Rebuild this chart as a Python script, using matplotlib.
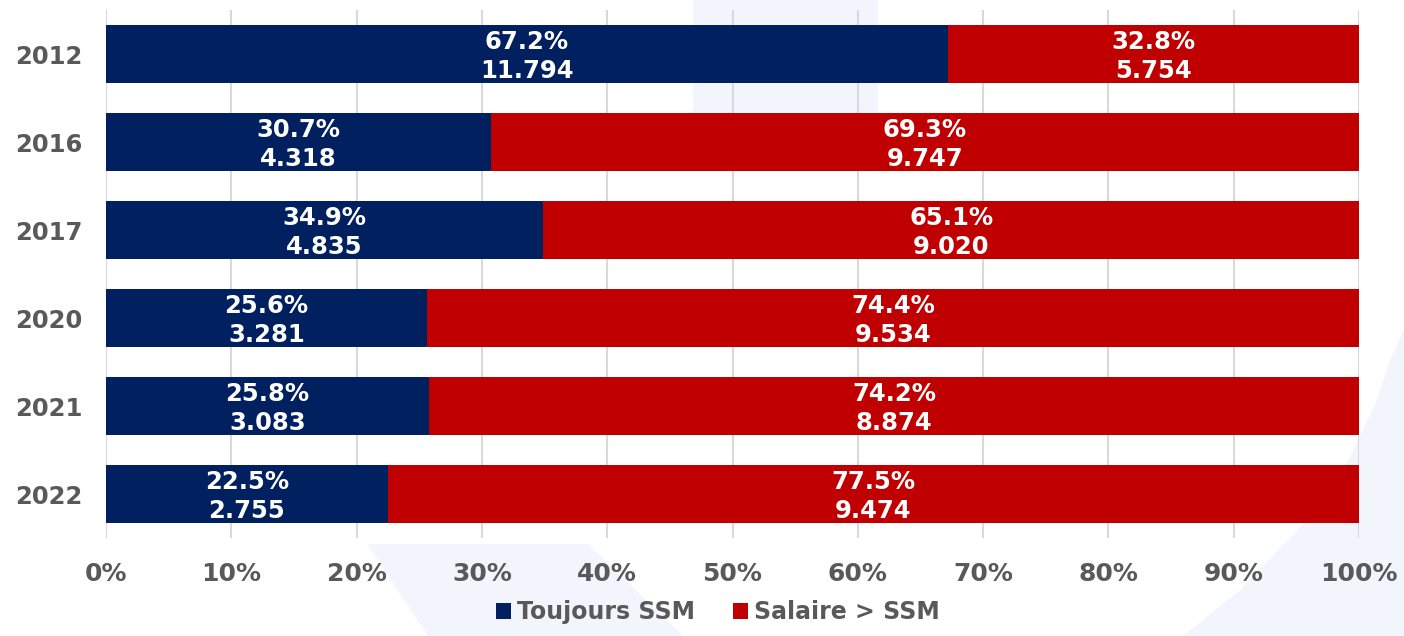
import matplotlib
matplotlib.use("Agg")
from matplotlib import pyplot as plt
from matplotlib.patches import Polygon, Patch
import numpy as np

#-------------- Data ---------------
years = ['2012', '2016', '2017', '2020', '2021', '2022']
share_ssm = [67.2, 30.7, 34.9, 25.6, 25.8, 22.5]      # Toujours SSM (%)
share_above = [32.8, 69.3, 65.1, 74.4, 74.2, 77.5]    # Salaire > SSM (%)
count_ssm = [11794, 4318, 4835, 3281, 3083, 2755]
count_above = [5754, 9747, 9020, 9534, 8874, 9474]
series_names = ['Toujours SSM', 'Salaire > SSM']

NAVY = '#002060'
RED = '#C00000'
GREY = '#595959'
WATERMARK = '#F2F5FB'

W, H = 1404, 636


def fmt_count(n):
    # european thousand separator
    return f'{n:,}'.replace(',', '.')


def px(points):
    # pixel coords (from top-left) -> figure fraction
    return [(x / W, 1 - y / H) for x, y in points]


fig = plt.figure(figsize=(W / 100, H / 100), dpi=100)
fig.patch.set_facecolor('white')

# faint background watermark shapes (behind the axes)
shapes = [
    [(693, 0), (878, 0), (878, 140), (693, 140)],
    [(367, 544), (588, 544), (683, 636), (428, 636)],
    [(1404, 330), (1390, 360), (1377, 400), (1347, 463), (1307, 520),
     (1240, 590), (1183, 636), (1404, 636)],
]
for s in shapes:
    fig.patches.append(Polygon(px(s), closed=True, transform=fig.transFigure,
                               facecolor=WATERMARK, edgecolor='none', zorder=-10))

ax = fig.add_axes([106 / W, (H - 538) / H, 1253 / W, 528 / H])
ax.patch.set_alpha(0)

y = np.arange(len(years))
bar_h = 0.67
ax.barh(y, share_ssm, height=bar_h, color=NAVY, zorder=3)
ax.barh(y, share_above, left=share_ssm, height=bar_h, color=RED, zorder=3)

label_style = dict(ha='center', va='center', color='white', fontsize=17.5,
                   fontweight='bold', linespacing=1.25, zorder=4)
for i in range(len(years)):
    ax.text(share_ssm[i] / 2, y[i] + 0.03,
            f'{share_ssm[i]:.1f}%\n{fmt_count(count_ssm[i])}', **label_style)
    ax.text(share_ssm[i] + share_above[i] / 2, y[i] + 0.03,
            f'{share_above[i]:.1f}%\n{fmt_count(count_above[i])}', **label_style)

ax.set_xlim(0, 100)
ax.set_ylim(len(years) - 0.5, -0.5)
ax.set_yticks(y)
ax.set_yticklabels(years)
ax.set_xticks(np.arange(0, 101, 10))
ax.set_xticklabels([f'{v}%' for v in range(0, 101, 10)])

for sp in ax.spines.values():
    sp.set_visible(False)
ax.grid(axis='x', color='#D9D9D9', linewidth=1.5, zorder=1)
ax.tick_params(axis='y', length=0, pad=17, labelsize=17.5, labelcolor=GREY)
ax.tick_params(axis='x', length=0, pad=17, labelsize=18, labelcolor=GREY)
for lab in ax.get_xticklabels() + ax.get_yticklabels():
    lab.set_fontweight('bold')

handles = [Patch(facecolor=NAVY), Patch(facecolor=RED)]
leg = fig.legend(handles, series_names, loc='lower center', ncol=2,
                 bbox_to_anchor=(718 / W, -0.015), frameon=False,
                 handlelength=0.65, handleheight=0.65, handletextpad=0.25,
                 columnspacing=1.6, prop={'size': 17, 'weight': 'bold'})
for t in leg.get_texts():
    t.set_color(GREY)

fig.savefig('out.png', dpi=100)
